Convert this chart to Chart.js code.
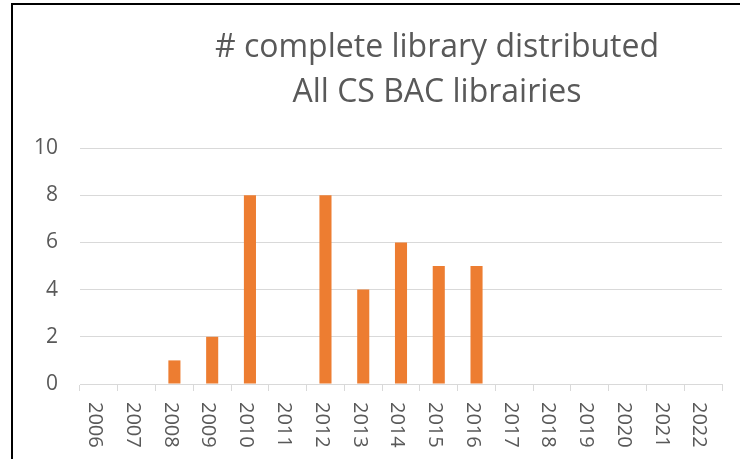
<!DOCTYPE html>
<html>
<head>
<meta charset="utf-8">
<script src="https://cdn.jsdelivr.net/npm/chart.js@4/dist/chart.umd.min.js"></script>
<style>
  html, body { margin: 0; padding: 0; background: #fff; }
  #wrap { position: relative; width: 740px; height: 459px; }
  canvas { display: block; }
</style>
</head>
<body>
<div id="wrap"><canvas id="c" width="740" height="459"></canvas></div>
<script>
const categories = ['2006','2007','2008','2009','2010','2011','2012','2013','2014','2015','2016','2017','2018','2019','2020','2021','2022'];
const libraryCounts = [0, 0, 1, 2, 8, 0, 8, 4, 6, 5, 5, 0, 0, 0, 0, 0, 0];
const titleLines = ['# complete library distributed', 'All CS BAC librairies'];
const yTicks = [0, 2, 4, 6, 8, 10];

const FONT = '"Open Sans", Lato, sans-serif';
const TEXT = '#595959';
const GRID = '#d9d9d9';

const decor = {
  id: 'decor',
  beforeDraw(chart) {
    const ctx = chart.ctx;
    ctx.save();
    ctx.fillStyle = '#fff';
    ctx.fillRect(0, 0, chart.width, chart.height);
    ctx.restore();
  },
  afterDraw(chart) {
    const ctx = chart.ctx;
    ctx.save();
    // frame (left and top edges)
    ctx.strokeStyle = '#000';
    ctx.lineWidth = 2;
    ctx.beginPath();
    ctx.moveTo(12, chart.height);
    ctx.lineTo(12, 4);
    ctx.lineTo(chart.width, 4);
    ctx.stroke();
    // title
    ctx.fillStyle = TEXT;
    ctx.font = '32px ' + FONT;
    ctx.textAlign = 'center';
    ctx.textBaseline = 'alphabetic';
    ctx.fillText(titleLines[0], 437, 57);
    ctx.fillText(titleLines[1], 437, 102);
    // rotated x labels (reading top to bottom)
    const xs = chart.scales.x;
    ctx.font = '20px ' + FONT;
    ctx.textAlign = 'left';
    ctx.textBaseline = 'middle';
    categories.forEach((lab, i) => {
      const x = xs.getPixelForValue(i);
      ctx.save();
      ctx.translate(x - 4, xs.top + 18);
      ctx.rotate(Math.PI / 2);
      ctx.fillText(lab, 0, 0);
      ctx.restore();
    });
    ctx.restore();
  }
};

new Chart(document.getElementById('c'), {
  type: 'bar',
  data: {
    labels: categories,
    datasets: [{
      data: libraryCounts,
      backgroundColor: '#ED7D31',
      borderWidth: 0,
      barPercentage: 0.32,
      categoryPercentage: 1.0
    }]
  },
  options: {
    responsive: false,
    animation: false,
    devicePixelRatio: 1,
    layout: { padding: { left: 12, right: 18, top: 148, bottom: 0 } },
    plugins: { legend: { display: false }, title: { display: false }, tooltip: { enabled: false } },
    scales: {
      x: {
        afterFit(s) { s.height = 75; },
        grid: { display: true, drawOnChartArea: false, offset: true, tickLength: 7, color: GRID, lineWidth: 1 },
        border: { display: true, color: GRID, width: 1 },
        ticks: { display: false }
      },
      y: {
        min: 0, max: 10,
        afterFit(s) { s.width = 68; },
        afterBuildTicks(s) { s.ticks = yTicks.map(v => ({ value: v })); },
        grid: { color: GRID, lineWidth: 1, drawTicks: false },
        border: { display: false },
        ticks: { padding: 22, color: TEXT, font: { family: FONT, size: 21 } }
      }
    }
  },
  plugins: [decor]
});
</script>
</body>
</html>
